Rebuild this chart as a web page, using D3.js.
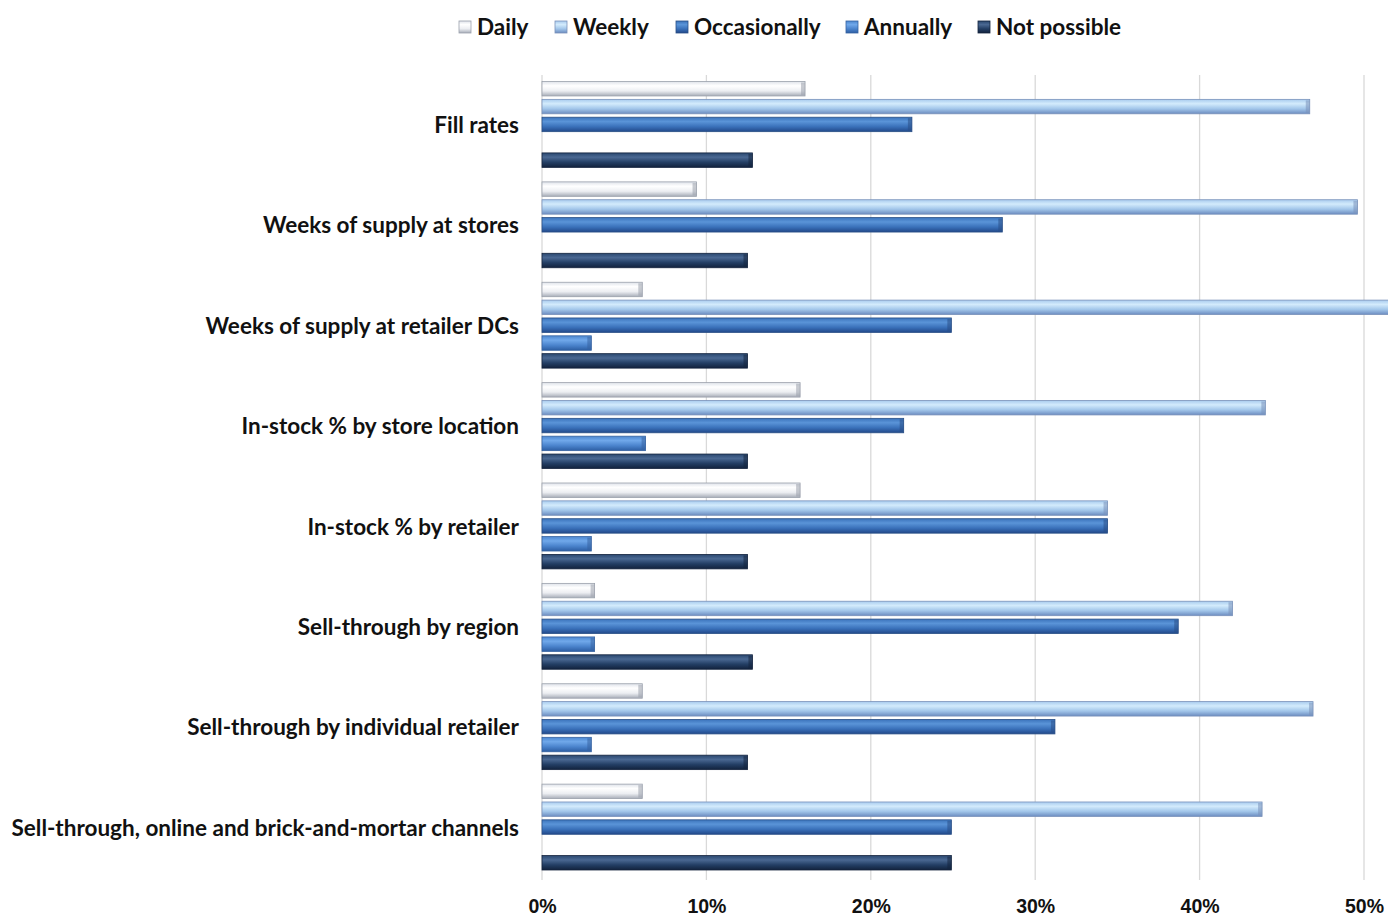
<!DOCTYPE html>
<html>
<head>
<meta charset="utf-8">
<script src="https://cdn.jsdelivr.net/npm/d3@7"></script>
<style>
  body { margin: 0; background: #fff; overflow: hidden; }
  svg { display: block; }
</style>
</head>
<body>
<svg id="chart"></svg>
<script>
const categories = [
  'Fill rates',
  'Weeks of supply at stores',
  'Weeks of supply at retailer DCs',
  'In-stock % by store location',
  'In-stock % by retailer',
  'Sell-through by region',
  'Sell-through by individual retailer',
  'Sell-through, online and brick-and-mortar channels'
]
const seriesNames = ['Daily', 'Weekly', 'Occasionally', 'Annually', 'Not possible']
const daily        = [16.0, 9.4, 6.1, 15.7, 15.7, 3.2, 6.1, 6.1]
const weekly       = [46.7, 49.6, 53.0, 44.0, 34.4, 42.0, 46.9, 43.8]
const occasionally = [22.5, 28.0, 24.9, 22.0, 34.4, 38.7, 31.2, 24.9]
const annually     = [0, 0, 3.0, 6.3, 3.0, 3.2, 3.0, 0]
const notPossible  = [12.8, 12.5, 12.5, 12.5, 12.5, 12.8, 12.5, 24.9]
const xTicks = [0, 10, 20, 30, 40, 50]

const seriesValues = [daily, weekly, occasionally, annually, notPossible]
const width = 1388
const height = 916
const margin = {left: 542, right: 24, top: 75, bottom: 38}
const labelFont = 'Lato, sans-serif'
const labelSize = 22.5

// gradient stops per series (top -> bottom, bevelled look)
const palette = {
  'Daily':        {stops: ['#dfe3ea', '#ffffff', '#eceef2', '#a7adb8'], stroke: '#9ba1ac'},
  'Weekly':       {stops: ['#a8cbee', '#d3ebfc', '#a2c6ea', '#6c8cc0'], stroke: '#7a92ba'},
  'Occasionally': {stops: ['#3b73bb', '#5a94d8', '#3a71ba', '#22498a'], stroke: '#2a4f86'},
  'Annually':     {stops: ['#4c87d0', '#70a8ea', '#4b84cd', '#2d5ea3'], stroke: '#3662a0'},
  'Not possible': {stops: ['#2a4870', '#4a6892', '#233e64', '#12223d'], stroke: '#14243e'}
}

const svg = d3.select('#chart').attr('width', width).attr('height', height)
const defs = svg.append('defs')
seriesNames.forEach((s, i) => {
  const g = defs.append('linearGradient').attr('id', 'grad' + i)
    .attr('x1', 0).attr('y1', 0).attr('x2', 0).attr('y2', 1)
  const offs = [0, 0.3, 0.65, 1]
  palette[s].stops.forEach((c, k) => g.append('stop').attr('offset', offs[k]).attr('stop-color', c))
})

const xScale = d3.scaleLinear().domain([0, 50]).range([margin.left, 1364])
const yScale = d3.scaleBand().domain(categories).range([margin.top, height - margin.bottom])
const inner = d3.scaleBand().domain(seriesNames)
  .range([6.5, yScale.bandwidth() - 8]).paddingInner(0.19).paddingOuter(0)

// gridlines
svg.append('g').selectAll('line').data(xTicks).enter().append('line')
  .attr('x1', d => xScale(d)).attr('x2', d => xScale(d))
  .attr('y1', margin.top).attr('y2', height - margin.bottom + 2)
  .attr('stroke', '#d9d9d9').attr('stroke-width', 1.3)

// x axis labels
const xAxis = d3.axisBottom(xScale).tickValues(xTicks).tickFormat(d => d + '%').tickSize(0).tickPadding(0)
const gx = svg.append('g').attr('transform', `translate(0,${height - margin.bottom + 17})`).call(xAxis)
gx.select('.domain').remove()
gx.selectAll('text').attr('font-family', 'Liberation Sans, Arial, sans-serif')
  .attr('font-size', 19.5).attr('font-weight', 'bold').attr('fill', '#111')
  .attr('dy', '0.9em')

// category labels
const yAxis = d3.axisLeft(yScale).tickSize(0).tickPadding(23)
const gy = svg.append('g').attr('transform', `translate(${margin.left},0)`).call(yAxis)
gy.select('.domain').remove()
gy.selectAll('text').attr('font-family', labelFont).attr('font-size', labelSize)
  .attr('font-weight', 'bold').attr('fill', '#111')
  .attr('dy', '0.35em')

// bars
const barData = []
categories.forEach((c, ci) => {
  seriesNames.forEach((s, si) => {
    barData.push({cat: c, series: s, si: si, value: seriesValues[si][ci]})
  })
})
const bars = svg.append('g').selectAll('g').data(barData.filter(d => d.value > 0)).enter().append('g')
bars.append('rect')
  .attr('x', xScale(0))
  .attr('y', d => yScale(d.cat) + inner(d.series))
  .attr('width', d => xScale(d.value) - xScale(0))
  .attr('height', inner.bandwidth())
  .attr('fill', d => `url(#grad${d.si})`)
  .attr('stroke', d => palette[d.series].stroke).attr('stroke-width', 0.8)
// bevelled end caps
bars.append('rect')
  .attr('x', d => xScale(d.value) - 4)
  .attr('y', d => yScale(d.cat) + inner(d.series) + 1)
  .attr('width', 4)
  .attr('height', inner.bandwidth() - 2)
  .attr('fill', d => palette[d.series].stroke).attr('opacity', 0.55)

// legend
const legendPos = [459, 555, 676, 846, 978]
const legend = svg.append('g').selectAll('g').data(seriesNames).enter().append('g')
  .attr('transform', (d, i) => `translate(${legendPos[i]},21)`)
legend.append('rect').attr('width', 12).attr('height', 12)
  .attr('fill', (d, i) => `url(#grad${i})`)
  .attr('stroke', d => palette[d].stroke).attr('stroke-width', 0.8)
legend.append('text').attr('x', 18).attr('y', 6).attr('dy', '0.35em')
  .attr('font-family', labelFont).attr('font-size', labelSize).attr('font-weight', 'bold')
  .attr('fill', '#111').text(d => d)
</script>
</body>
</html>
